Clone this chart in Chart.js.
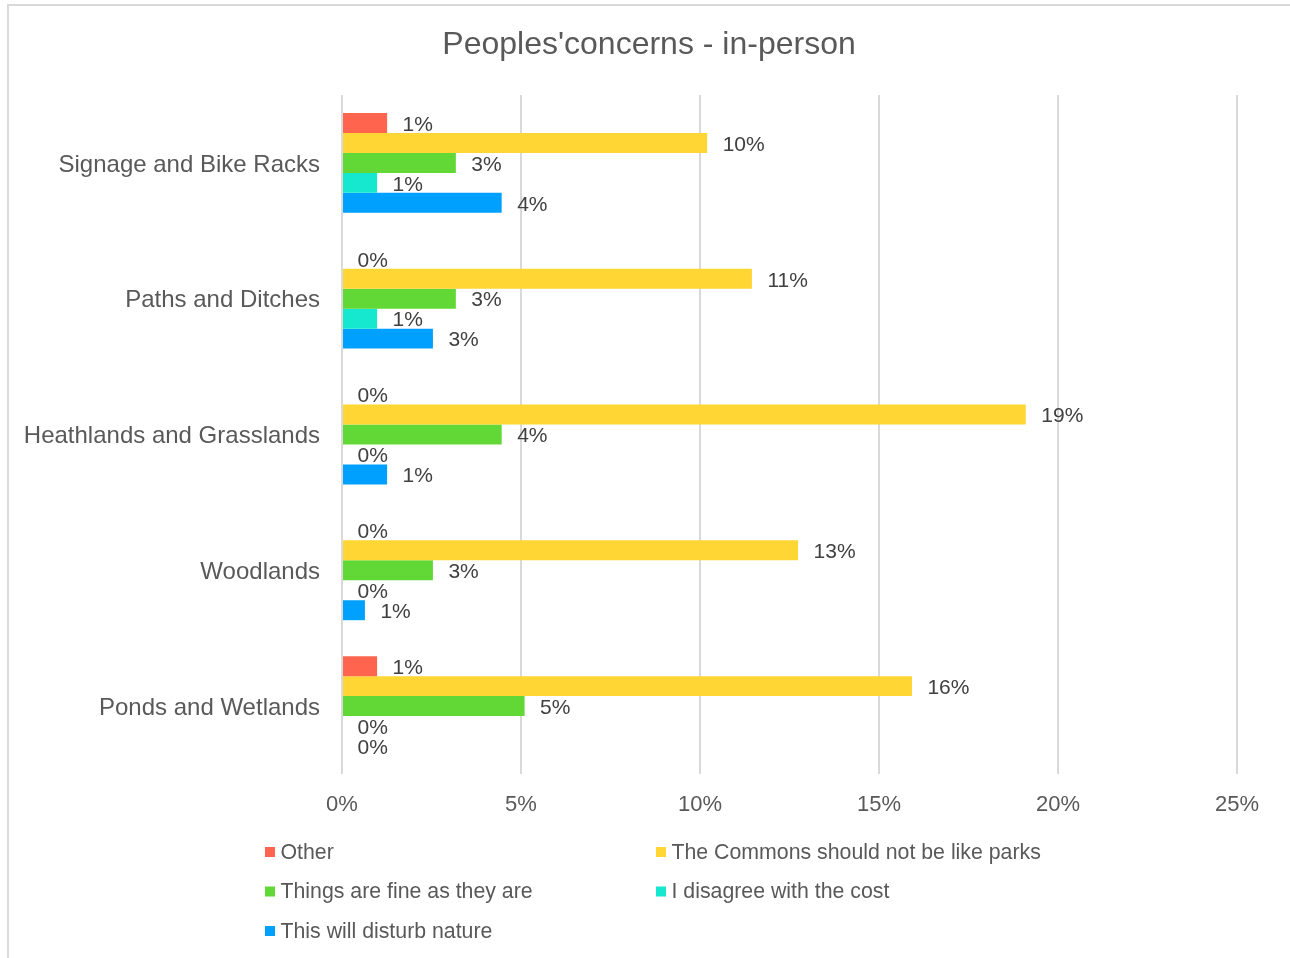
<!DOCTYPE html>
<html>
<head>
<meta charset="utf-8">
<script src="https://cdn.jsdelivr.net/npm/chart.js@4"></script>
<style>
  html, body { margin: 0; padding: 0; background: #fff; overflow: hidden; }
  #wrap { position: relative; width: 1290px; height: 958px; }
  #frame { position: absolute; left: 7px; top: 4px; width: 1300px; height: 980px;
           border: 2px solid #d9d9d9; box-sizing: border-box; pointer-events: none; }
  canvas { position: absolute; left: 0; top: 0; }
</style>
</head>
<body>
<div id="wrap">
  <canvas id="concernsChart" width="1290" height="958"></canvas>
  <div id="frame"></div>
</div>
<script>
const chartTitle = "Peoples'concerns - in-person";
const categories = ['Signage and Bike Racks', 'Paths and Ditches', 'Heathlands and Grasslands', 'Woodlands', 'Ponds and Wetlands'];

const seriesNames = ['Other', 'The Commons should not be like parks', 'Things are fine as they are', 'I disagree with the cost', 'This will disturb nature'];
const seriesColors = ['#FF644E', '#FFD633', '#62D836', '#16E7CF', '#00A1FE'];

// shares of respondents, per category
const otherVals   = [0.0126, 0, 0, 0, 0.0098];
const commonsVals = [0.1020, 0.1145, 0.1910, 0.1274, 0.1592];
const fineVals    = [0.0318, 0.0318, 0.0446, 0.0254, 0.0510];
const costVals    = [0.0098, 0.0098, 0, 0, 0];
const natureVals  = [0.0446, 0.0254, 0.0126, 0.0064, 0];

const xTicks = [0, 0.05, 0.10, 0.15, 0.20, 0.25];

const FONT = "'Liberation Sans', Arial, sans-serif";
const allSeries = [otherVals, commonsVals, fineVals, costVals, natureVals];

const pct = v => Math.round(v * 100) + '%';

// title centred on the whole frame rather than the plot
const frameTitle = {
  id: 'frameTitle',
  afterDraw(chart) {
    const ctx = chart.ctx;
    ctx.save();
    ctx.font = '32px ' + FONT;
    ctx.fillStyle = '#595959';
    ctx.textAlign = 'center';
    ctx.textBaseline = 'middle';
    ctx.fillText(chartTitle, 649, 45);
    ctx.restore();
  }
};

// value labels just past the end of each bar
const barLabels = {
  id: 'barLabels',
  afterDatasetsDraw(chart) {
    const ctx = chart.ctx;
    ctx.save();
    ctx.font = '21px ' + FONT;
    ctx.fillStyle = '#404040';
    ctx.textAlign = 'left';
    ctx.textBaseline = 'middle';
    chart.data.datasets.forEach((ds, i) => {
      const meta = chart.getDatasetMeta(i);
      meta.data.forEach((bar, j) => {
        ctx.fillText(pct(ds.data[j]), bar.x + 15.5, bar.y + 2);
      });
    });
    ctx.restore();
  }
};

// two-column legend under the axis
const gridLegend = {
  id: 'gridLegend',
  afterDraw(chart) {
    const ctx = chart.ctx;
    const cols = [265, 656];
    const rows = [852, 891.5, 931];
    ctx.save();
    ctx.font = '21.3px ' + FONT;
    ctx.textBaseline = 'middle';
    ctx.textAlign = 'left';
    chart.data.datasets.forEach((ds, i) => {
      const x = cols[i % 2];
      const y = rows[Math.floor(i / 2)];
      ctx.fillStyle = ds.backgroundColor;
      ctx.fillRect(x, y - 5, 10, 10);
      ctx.fillStyle = '#595959';
      ctx.fillText(ds.label, x + 15.5, y + 1);
    });
    ctx.restore();
  }
};

const datasets = seriesNames.map((name, i) => ({
  label: name,
  data: allSeries[i],
  backgroundColor: seriesColors[i],
  borderWidth: 0,
  categoryPercentage: 0.735,
  barPercentage: 1.0
}));

const ctx = document.getElementById('concernsChart').getContext('2d');
const chart = new Chart(ctx, {
  type: 'bar',
  data: { labels: categories, datasets: datasets },
  options: {
    indexAxis: 'y',
    responsive: false,
    animation: false,
    devicePixelRatio: 1,
    layout: { padding: { left: 0, right: 53, top: 95, bottom: 142 } },
    plugins: {
      legend: { display: false },
      tooltip: { enabled: false },
      title: { display: false }
    },
    scales: {
      x: {
        min: 0,
        max: 0.25,
        afterBuildTicks(scale) { scale.ticks = xTicks.map(v => ({ value: v })); },
        afterFit(scale) { scale.height = 42; },
        ticks: {
          color: '#595959',
          font: { family: FONT, size: 22 },
          padding: 18,
          callback: v => pct(v)
        },
        grid: { color: '#d9d9d9', lineWidth: 2, drawTicks: false },
        border: { display: false }
      },
      y: {
        afterFit(scale) { scale.width = 342; },
        ticks: {
          color: '#595959',
          font: { family: FONT, size: 24 },
          padding: 22,
          labelOffset: 2
        },
        grid: { display: false, drawTicks: false },
        border: { display: false }
      }
    }
  },
  plugins: [barLabels, gridLegend, frameTitle]
});
</script>
</body>
</html>
